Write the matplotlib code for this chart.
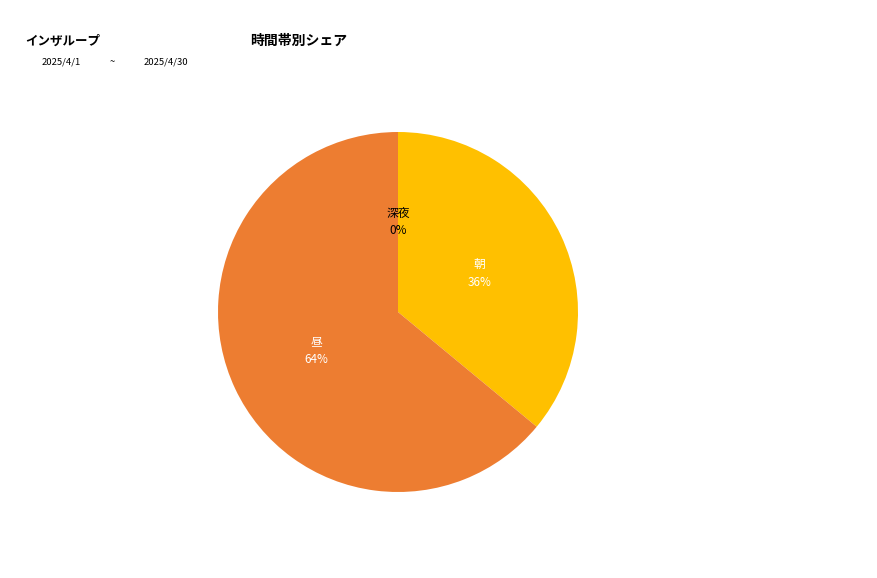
import matplotlib
matplotlib.use("Agg")
from matplotlib import pyplot as plt

plt.rcParams['font.family'] = ['Noto Sans CJK JP', 'DejaVu Sans']

# ---- data ----
categories = ["朝", "昼", "深夜"]
shares = [36, 64, 0]
colors = ["#FFC000", "#ED7D31", "#A5A5A5"]
label_colors = ["white", "white", "black"]
company = "インザループ"
title = "時間帯別シェア"
date_from = "2025/4/1"
date_to = "2025/4/30"

W, H = 877, 578
fig = plt.figure(figsize=(W / 100, H / 100), dpi=100)
fig.patch.set_facecolor("white")

# pie centred at (398, 312) px, radius 180 px
cx, cy, r = 398, 312, 180
ax = fig.add_axes([(cx - r) / W, (H - cy - r) / H, 2 * r / W, 2 * r / H])
total = sum(shares)
labels = [f"{c}\n{round(v / total * 100)}%" for c, v in zip(categories, shares)]
wedges, texts = ax.pie(shares, colors=colors, startangle=90, counterclock=False,
                       labels=labels, labeldistance=0.5,
                       wedgeprops=dict(linewidth=0),
                       textprops=dict(fontsize=8.5, ha="center", va="center",
                                      linespacing=1.5))
for t, c in zip(texts, label_colors):
    t.set_color(c)
ax.set_xlim(-1, 1); ax.set_ylim(-1, 1)
ax.set_aspect("auto")
ax.axis("off")

# ---- header texts ----
fig.text(25 / W, 1 - 41 / H, company, fontsize=9, fontweight="bold", va="center", ha="left")
fig.text(250 / W, 1 - 41 / H, title, fontsize=10, fontweight="bold", va="center", ha="left")
fig.text(42 / W, 1 - 62 / H, date_from, fontsize=6.8, va="center", ha="left")
fig.text(110 / W, 1 - 62 / H, "~", fontsize=6.8, va="center", ha="left")
fig.text(144 / W, 1 - 62 / H, date_to, fontsize=6.8, va="center", ha="left")

fig.savefig("out.png", dpi=100)
